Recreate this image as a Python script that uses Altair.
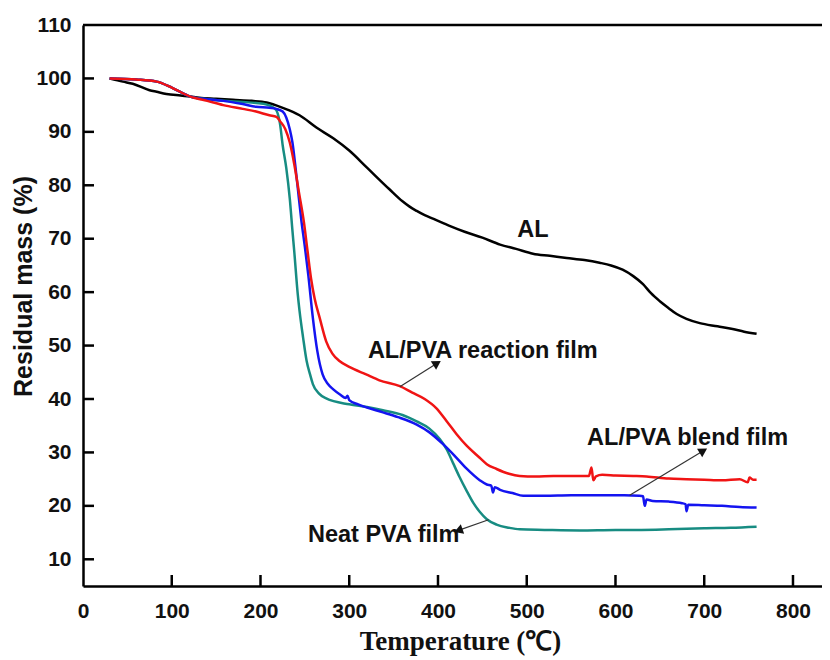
import math
import altair as alt
import pandas as pd

# ---------------- data ----------------
al_T = [30, 45, 56, 75, 83, 94, 110, 121, 131, 150, 169, 190, 207, 225, 244, 263, 282, 300, 320, 345,
        360, 368, 376, 385, 395, 413, 430, 450, 470, 488, 507, 526, 545, 565, 582, 595, 608, 620, 631,
        640, 650, 660, 669, 680, 695, 715, 732, 745, 759]
al_M = [100, 99.4, 99.0, 97.8, 97.5, 97.1, 96.8, 96.6, 96.4, 96.2, 96.0, 95.8, 95.5, 94.5, 93.1, 90.8,
        88.8, 86.5, 83.3, 79.3, 77.0, 76.0, 75.2, 74.4, 73.7, 72.4, 71.3, 70.2, 68.9, 68.1, 67.2, 66.8,
        66.4, 66.0, 65.5, 65.0, 64.2, 63.0, 61.5, 59.8, 58.3, 57.0, 55.9, 55.0, 54.2, 53.6, 53.1, 52.6,
        52.2]

pva_T = [30, 60, 83, 101, 121, 140, 158, 180, 195, 207, 214, 218, 222, 225, 229, 233, 236, 238, 242,
         244, 248, 252, 256, 259, 266, 274, 300, 320, 338, 360, 376, 390, 402, 410, 417, 424, 432, 440,
         447, 455, 466, 480, 492, 520, 560, 600, 629, 660, 700, 730, 759]
pva_M = [100, 99.8, 99.4, 98.2, 96.6, 96.1, 95.8, 95.6, 95.4, 95.1, 94.6, 94.0, 91.5, 87.5, 83.3, 77.5,
         71.5, 67.7, 59.6, 56.5, 51.5, 47.1, 44.5, 42.8, 41.0, 40.1, 39.0, 38.5, 37.9, 37.0, 35.8, 34.5,
         32.5, 30.5, 28.0, 25.5, 22.9, 20.5, 18.9, 17.5, 16.5, 15.9, 15.6, 15.5, 15.4, 15.5, 15.5, 15.6,
         15.8, 15.9, 16.1]

blend_T = [30, 60, 83, 101, 121, 140, 158, 180, 195, 210, 218, 225, 229, 233, 236, 239, 242, 246, 250,
           254, 259, 264, 270, 276, 282, 290, 296, 298, 300, 310, 320, 338, 355, 376, 390, 406, 418,
           432, 447, 455, 460, 462, 464, 470, 484, 496, 520, 550, 580, 610, 627, 631, 633, 635, 642, 660,
           675, 679, 680, 682, 700, 720, 740, 759]
blend_M = [100, 99.8, 99.4, 98.2, 96.6, 96.1, 95.8, 95.2, 94.7, 94.5, 94.3, 93.8, 92.7, 90.5, 88.0, 84.0,
           79.5, 73.5, 68.5, 63.0, 55.2, 49.0, 44.6, 42.8, 41.8, 40.8, 40.2, 40.6, 39.8, 39.0, 38.4,
           37.5, 36.6, 35.2, 33.8, 31.5, 29.5, 27.0, 24.8, 24.0, 23.8, 22.5, 23.5, 23.0, 22.4, 21.9, 21.9,
           22.0, 22.0, 22.0, 21.9, 21.8, 20.0, 21.2, 20.9, 20.8, 20.5, 20.3, 19.0, 20.2, 20.1, 20.0, 19.8,
           19.7]

react_T = [30, 60, 83, 101, 121, 140, 158, 180, 195, 210, 218, 222, 228, 233, 238, 243, 249, 253, 257,
           261, 267, 274, 281, 289, 300, 319, 334, 357, 371, 385, 398, 410, 421, 432, 447, 455, 466, 480,
           492, 510, 530, 550, 570, 573, 575, 578, 585, 600, 620, 635, 660, 680, 700, 720, 740, 749, 751,
           755, 759]
react_M = [100, 99.8, 99.4, 98.2, 96.6, 95.8, 95.0, 94.3, 93.8, 93.1, 92.8, 92.0, 90.5, 88.0, 84.0, 79.0,
           73.0, 67.7, 62.5, 58.8, 55.0, 50.8, 48.5, 47.1, 46.0, 44.6, 43.5, 42.4, 41.2, 40.0, 38.3, 35.8,
           33.4, 31.3, 29.0, 27.8, 26.9, 26.0, 25.6, 25.5, 25.6, 25.6, 25.6, 27.2, 24.8, 25.5, 25.8, 25.7,
           25.6, 25.5, 25.1, 25.0, 24.9, 24.8, 25.0, 24.4, 25.3, 24.9, 24.9]

series_names = ["AL", "Neat PVA film", "AL/PVA blend film", "AL/PVA reaction film"]
series_colors = ["#000000", "#178c82", "#1414f0", "#f01414"]

x_ticks = [0, 100, 200, 300, 400, 500, 600, 700, 800]
y_ticks = [10, 20, 30, 40, 50, 60, 70, 80, 90, 100, 110]

# annotations: text label positions (data coords)
label_text = ["AL", "AL/PVA reaction film", "AL/PVA blend film", "Neat PVA film"]
label_T = [507, 321, 568, 253.5]
label_M = [71.6, 49.0, 32.7, 14.5]
label_align = ["center", "left", "left", "left"]

# arrows: start (on curve) -> tip (near label)
arrow_T1 = [357, 616, 457]
arrow_M1 = [42.3, 22.0, 17.4]
arrow_T2 = [399, 699, 423]
arrow_M2 = [46.7, 30.3, 15.4]

# ---------------- layout ----------------
W, H = 739, 561
X_DOM = [0, 832.7]
Y_DOM = [5, 110]
sx = W / (X_DOM[1] - X_DOM[0])
sy = H / (Y_DOM[1] - Y_DOM[0])

rows = []
for name, T, M in zip(series_names, [al_T, pva_T, blend_T, react_T], [al_M, pva_M, blend_M, react_M]):
    for t, m in zip(T, M):
        rows.append({"series": name, "T": t, "M": m})
df = pd.DataFrame(rows)

xs = alt.Scale(domain=X_DOM, nice=False, zero=False)
ys = alt.Scale(domain=Y_DOM, nice=False, zero=False)

sans = "Liberation Sans"

x_axis = alt.Axis(values=x_ticks, ticks=False, grid=False, domainColor="black", domainWidth=2.5,
                  labelFont=sans, labelFontWeight="bold", labelFontSize=21, labelColor="#111111",
                  labelPadding=14, labelFlush=False, labelOverlap=False,
                  title="Temperature (℃)", titleFont="Liberation Serif", titleFontWeight="bold",
                  titleFontSize=27, titleColor="#111111", titleX=377, titleY=63,
                  titleAlign="center", titleBaseline="alphabetic")
y_axis = alt.Axis(values=y_ticks, ticks=False, grid=False, domainColor="black", domainWidth=2.5,
                  labelFont=sans, labelFontWeight="bold", labelFontSize=21, labelColor="#111111",
                  labelPadding=12, labelOverlap=False, labelFlush=False,
                  title="Residual mass (%)", titleFont=sans, titleFontWeight="bold",
                  titleFontSize=25, titleColor="#111111", titleX=-60, titleY=261,
                  titleAngle=270, titleAlign="center", titleBaseline="middle")

lines = alt.Chart(df).mark_line(strokeWidth=2.5, interpolate="monotone").encode(
    x=alt.X("T:Q", scale=xs, axis=x_axis),
    y=alt.Y("M:Q", scale=ys, axis=y_axis),
    color=alt.Color("series:N", scale=alt.Scale(domain=series_names, range=series_colors), legend=None),
    order=alt.Order("T:Q"),
)

# inward ticks
xt = pd.DataFrame({"v": x_ticks[1:]})
yt = pd.DataFrame({"v": y_ticks[:-1]})
xtick_rules = alt.Chart(xt).mark_rule(color="black", strokeWidth=2.5).encode(
    x=alt.X("v:Q", scale=xs), y=alt.value(H), y2=alt.value(H - 11))
ytick_rules = alt.Chart(yt).mark_rule(color="black", strokeWidth=2.5).encode(
    y=alt.Y("v:Q", scale=ys), x=alt.value(0), x2=alt.value(11))
top_border = alt.Chart(pd.DataFrame({"a": [0]})).mark_rule(color="black", strokeWidth=2.5).encode(
    x=alt.value(0), x2=alt.value(W), y=alt.value(0))

# labels
lab = pd.DataFrame({"text": label_text, "T": label_T, "M": label_M, "align": label_align})
labels_c = alt.Chart(lab[lab["align"] == "center"]).mark_text(
    font=sans, fontWeight="bold", fontSize=23.5, color="#111111", align="center", baseline="middle"
).encode(x=alt.X("T:Q", scale=xs), y=alt.Y("M:Q", scale=ys), text="text:N")
labels_l = alt.Chart(lab[lab["align"] == "left"]).mark_text(
    font=sans, fontWeight="bold", fontSize=23.5, color="#111111", align="left", baseline="middle"
).encode(x=alt.X("T:Q", scale=xs), y=alt.Y("M:Q", scale=ys), text="text:N")

# arrows
angles = []
for t1, m1, t2, m2 in zip(arrow_T1, arrow_M1, arrow_T2, arrow_M2):
    dx = (t2 - t1) * sx
    dy = -(m2 - m1) * sy
    angles.append(math.degrees(math.atan2(dy, dx)) % 360)
arr = pd.DataFrame({"T1": arrow_T1, "M1": arrow_M1, "T2": arrow_T2, "M2": arrow_M2, "ang": angles})
arrow_lines = alt.Chart(arr).mark_rule(color="#333333", strokeWidth=1.2).encode(
    x=alt.X("T1:Q", scale=xs), y=alt.Y("M1:Q", scale=ys), x2="T2:Q", y2="M2:Q")
arrow_heads = alt.Chart(arr).mark_point(shape="triangle-right", filled=True, color="#111111",
                                        size=100, opacity=1).encode(
    x=alt.X("T2:Q", scale=xs), y=alt.Y("M2:Q", scale=ys), angle=alt.Angle("ang:Q", scale=None))

chart = alt.layer(
    lines, xtick_rules, ytick_rules, top_border, arrow_lines, arrow_heads, labels_c, labels_l
).properties(
    width=W, height=H,
    padding={"left": 75, "top": 17, "right": 0, "bottom": 72},
    autosize=alt.AutoSizeParams(type="none"),
).configure_view(strokeWidth=0).configure(background="white")

chart.save("out.html", embed_options={"renderer": "svg", "actions": False})
